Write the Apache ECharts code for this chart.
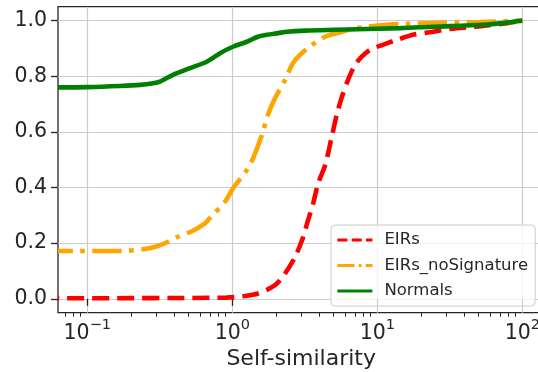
<!DOCTYPE html>
<html>
<head>
<meta charset="utf-8">
<script src="https://cdn.jsdelivr.net/npm/echarts@6/dist/echarts.min.js"></script>
<style>
  html, body { margin: 0; padding: 0; background: #ffffff; }
  #chart { width: 538px; height: 372px; }
</style>
</head>
<body>
<div id="chart"></div>
<script>
// Cumulative distributions of self-similarity scores (x on a log scale)
const seriesNames = ['EIRs', 'EIRs_noSignature', 'Normals'];

const eirsX = [0.0628, 0.891, 1.22, 1.50, 1.97, 2.31, 2.71, 3.03, 3.28, 3.61, 3.91, 4.37, 4.88, 5.28, 5.71, 6.28, 7.02, 7.85, 8.91, 10.9, 13.7, 17.6, 23.1, 31.7, 53.6, 78.3, 100];
const eirsY = [0.002, 0.004, 0.010, 0.019, 0.049, 0.091, 0.151, 0.211, 0.271, 0.343, 0.415, 0.481, 0.589, 0.667, 0.727, 0.787, 0.841, 0.871, 0.895, 0.913, 0.931, 0.949, 0.958, 0.970, 0.981, 0.991, 1.000];

const noSigX = [0.0628, 0.171, 0.250, 0.307, 0.361, 0.422, 0.519, 0.648, 0.713, 0.891, 1.01, 1.26, 1.39, 1.60, 1.76, 1.97, 2.31, 2.62, 2.93, 3.55, 4.36, 5.27, 7.24, 11.7, 23.1, 51.0, 100];
const noSigY = [0.172, 0.172, 0.179, 0.190, 0.205, 0.223, 0.241, 0.271, 0.295, 0.349, 0.397, 0.463, 0.505, 0.589, 0.661, 0.721, 0.787, 0.847, 0.877, 0.913, 0.942, 0.955, 0.973, 0.985, 0.991, 0.995, 1.000];

const normalsX = [0.0628, 0.1, 0.168, 0.231, 0.284, 0.317, 0.390, 0.511, 0.670, 0.823, 1.01, 1.26, 1.50, 1.73, 2.07, 2.38, 3.17, 5.11, 14.4, 24.2, 53.6, 73.6, 86.3, 100];
const normalsY = [0.760, 0.761, 0.765, 0.769, 0.775, 0.781, 0.805, 0.829, 0.853, 0.883, 0.906, 0.924, 0.942, 0.949, 0.955, 0.960, 0.964, 0.967, 0.973, 0.978, 0.985, 0.991, 0.996, 1.000];

const xMajorTicks = [0.1, 1, 10, 100];
const xMinorTicks = [0.07, 0.08, 0.09, 0.2, 0.3, 0.4, 0.5, 0.6, 0.7, 0.8, 0.9, 2, 3, 4, 5, 6, 7, 8, 9, 20, 30, 40, 50, 60, 70, 80, 90];
const yTicks = [0, 0.2, 0.4, 0.6, 0.8, 1.0];

const ink = '#262626';
const gridGray = '#cccccc';
const font = 'DejaVu Sans';

function pairs(xs, ys) { return xs.map((x, i) => [x, ys[i]]); }

function powLabel(v) {
  const e = Math.round(Math.log10(v));
  const exp = e < 0 ? '\u2212' + (-e) : String(e);
  return '{b|10}{s|' + exp + '}';
}

const chart = echarts.init(document.getElementById('chart'), null, { renderer: 'canvas' });

chart.setOption({
  animation: false,
  backgroundColor: '#ffffff',
  grid: {
    left: 58, top: 6.7, right: -6.4, bottom: 59.3,
    containLabel: false, outerBoundsMode: 'none',
    show: true, borderColor: ink, borderWidth: 1.3, backgroundColor: 'transparent'
  },
  xAxis: [
    {
      type: 'log', logBase: 10, min: 0.0628, max: 141.9,
      name: 'Self-similarity', nameLocation: 'middle', nameGap: 30,
      nameTextStyle: { fontFamily: font, fontSize: 22, color: ink },
      axisLine: { show: false },
      axisTick: { show: true, length: 7, customValues: xMajorTicks, lineStyle: { color: ink, width: 1.3 } },
      axisLabel: {
        customValues: xMajorTicks, margin: 5, formatter: powLabel,
        rich: {
          b: { fontFamily: font, fontSize: 20.5, color: ink, lineHeight: 26, verticalAlign: 'bottom' },
          s: { fontFamily: font, fontSize: 14.5, color: ink, lineHeight: 14, verticalAlign: 'top' }
        }
      },
      splitLine: { show: true, lineStyle: { color: gridGray, width: 1.2 } },
      minorTick: { show: false }
    },
    {
      type: 'log', logBase: 10, min: 0.0628, max: 141.9, gridIndex: 0, position: 'bottom',
      axisLine: { show: false },
      axisTick: { show: true, length: 4, customValues: xMinorTicks, lineStyle: { color: ink, width: 1 } },
      axisLabel: { show: false },
      splitLine: { show: false }
    }
  ],
  yAxis: {
    type: 'value', min: -0.05, max: 1.05,
    axisLine: { show: false },
    axisTick: { show: true, length: 7, customValues: yTicks, lineStyle: { color: ink, width: 1.3 } },
    axisLabel: {
      customValues: yTicks, margin: 11, fontFamily: font, fontSize: 20.5, color: ink,
      formatter: v => v.toFixed(1)
    },
    splitLine: { show: true, lineStyle: { color: gridGray, width: 1.2 } }
  },
  legend: {
    orient: 'vertical', left: 331, top: 225,
    padding: [6.5, 7, 6.5, 5],
    itemWidth: 35, itemHeight: 14, itemGap: 8.5,
    backgroundColor: 'rgba(255,255,255,0.8)',
    borderColor: gridGray, borderWidth: 1, borderRadius: 4,
    textStyle: { fontFamily: font, fontSize: 16.5, lineHeight: 16, color: ink, padding: [0, 0, 0, 7] },
    lineStyle: { width: 2.8 },
    itemStyle: { opacity: 0 },
    data: [
      { name: seriesNames[0], lineStyle: { type: [10, 4.3], dashOffset: 0, cap: 'butt' } },
      { name: seriesNames[1], lineStyle: { type: [17, 4.3, 2.8, 4.3], dashOffset: 0, cap: 'butt' } },
      { name: seriesNames[2], lineStyle: { type: 'solid' } }
    ]
  },
  series: [
    {
      name: seriesNames[0], type: 'line', data: pairs(eirsX, eirsY),
      showSymbol: false, symbol: 'none', smooth: 0.3, clip: true,
      lineStyle: { color: '#ff0000', width: 4.6, type: [17, 8], dashOffset: 15.7, cap: 'butt' },
      itemStyle: { color: '#ff0000' }, z: 3
    },
    {
      name: seriesNames[1], type: 'line', data: pairs(noSigX, noSigY),
      showSymbol: false, symbol: 'none', smooth: 0.3, clip: true,
      lineStyle: { color: '#ffa500', width: 4.6, type: [29.4, 7.4, 4.6, 7.4], dashOffset: 14.5, cap: 'butt' },
      itemStyle: { color: '#ffa500' }, z: 4
    },
    {
      name: seriesNames[2], type: 'line', data: pairs(normalsX, normalsY),
      showSymbol: false, symbol: 'none', smooth: 0.3, clip: true,
      lineStyle: { color: '#008000', width: 4.6, type: 'solid' },
      itemStyle: { color: '#008000' }, z: 5
    }
  ]
});
</script>
</body>
</html>
